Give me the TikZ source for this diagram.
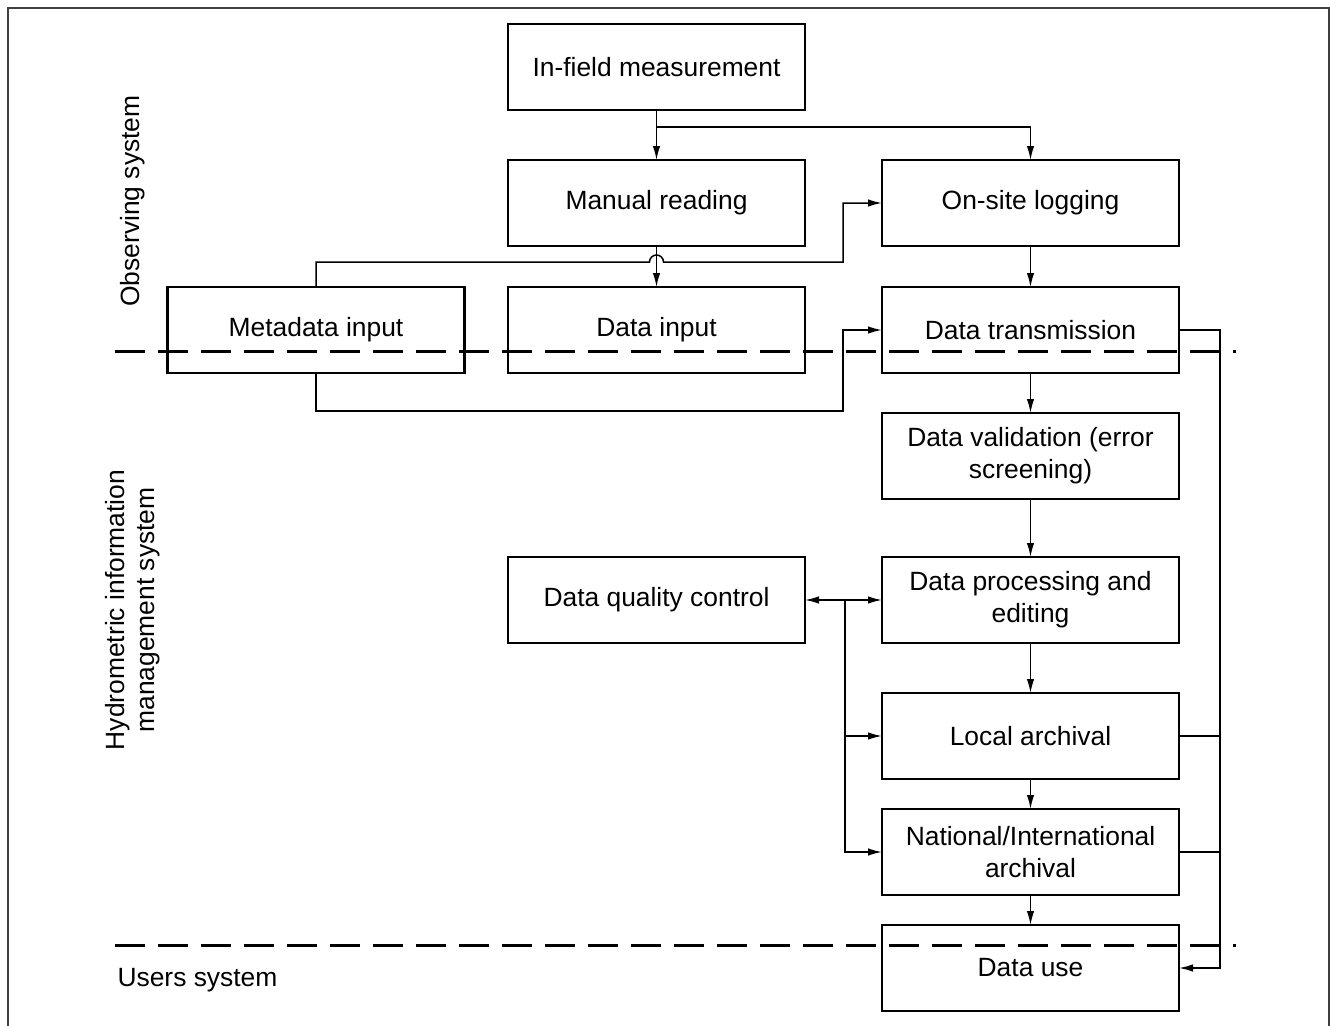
\documentclass[tikz,border=0pt]{standalone}
\usepackage{fontspec}
\setmainfont{Liberation Sans}
\usetikzlibrary{arrows.meta}
\begin{document}
\begin{tikzpicture}[x=1pt,y=-1pt,
  box/.style={draw, line width=2.8pt, minimum width=297pt, minimum height=86pt, align=center, inner sep=0pt, outer sep=0pt, font=\fontsize{26.4}{32}\selectfont},
  conn/.style={line width=1.5pt},
  arr/.style={conn, -{Latex[length=14pt,width=7.5pt]}},
  divider/.style={line width=3pt, dash pattern=on 30pt off 13pt},
  lbl/.style={font=\fontsize{26.4}{30}\selectfont, align=center}]
\useasboundingbox (0,0) rectangle (1330,1025);
% frame
\draw[line width=1.6pt, black!75] (8,1030) -- (8,8) -- (1329,8) -- (1329,1030);
% boxes
\node[box] (field) at (656.5,67) {In-field measurement};
\node[box] (manual) at (656.5,203) {Manual reading};
\node[box] (logging) at (1030.5,203) {On-site logging};
\node[box] (meta) at (316,330) {Metadata input};
\node[box] (input) at (656.5,330) {Data input};
\node[box] (trans) at (1030.5,330) {Data transmission};
\node[box] (valid) at (1030.5,456) {Data validation (error\\screening)};
\node[box] (qc) at (656.5,600) {Data quality control};
\node[box] (proc) at (1030.5,600) {Data processing and\\editing};
\node[box] (local) at (1030.5,736) {Local archival};
\node[box] (nat) at (1030.5,852) {National/International\\archival};
\node[box] (use) at (1030.5,968) {Data use};
% dividers
\draw[divider] (115,351) -- (1236,351);
\draw[divider] (115,945) -- (1236,945);
% labels
\node[lbl, rotate=90] (obs) at (133,201) {Observing system};
\node[lbl, rotate=90] (hims) at (133,610) {Hydrometric information\\management system};
\node[lbl, anchor=west] (users) at (114,980) {Users system};
% coordinates
\coordinate (br1) at (656.5,127);
\coordinate (jmp) at (656.5,262);
\coordinate (bus) at (1220,330);
% connectors
\draw[arr] (field) -- (manual);
\draw[arr] (br1) -| (logging);
\draw[arr] (manual) -- (input);
\draw[arr] (meta.north) -- ++(0,-25) -- ([xshift=-7pt]jmp) arc[start angle=180, end angle=0, radius=7pt] -- (843,262) |- (logging.west);
\draw[arr] (meta.south) -- ++(0,38) -| (843,330) -- (trans.west);
\draw[arr] (logging) -- (trans);
\draw[arr] (trans) -- (valid);
\draw[arr] (valid) -- (proc);
\draw[arr] (proc) -- (local);
\draw[arr] (local) -- (nat);
\draw[arr] (nat) -- (use);
\draw[arr] (trans.east) -- (bus) |- (use.east);
\draw[conn] (local.east) -- (1220,736);
\draw[conn] (nat.east) -- (1220,852);
\draw[conn, {Latex[length=14pt,width=7.5pt]}-{Latex[length=14pt,width=7.5pt]}] (qc.east) -- (proc.west);
\draw[arr] (845,600) |- (local.west);
\draw[arr] (845,736) |- (nat.west);
\end{tikzpicture}
\end{document}
